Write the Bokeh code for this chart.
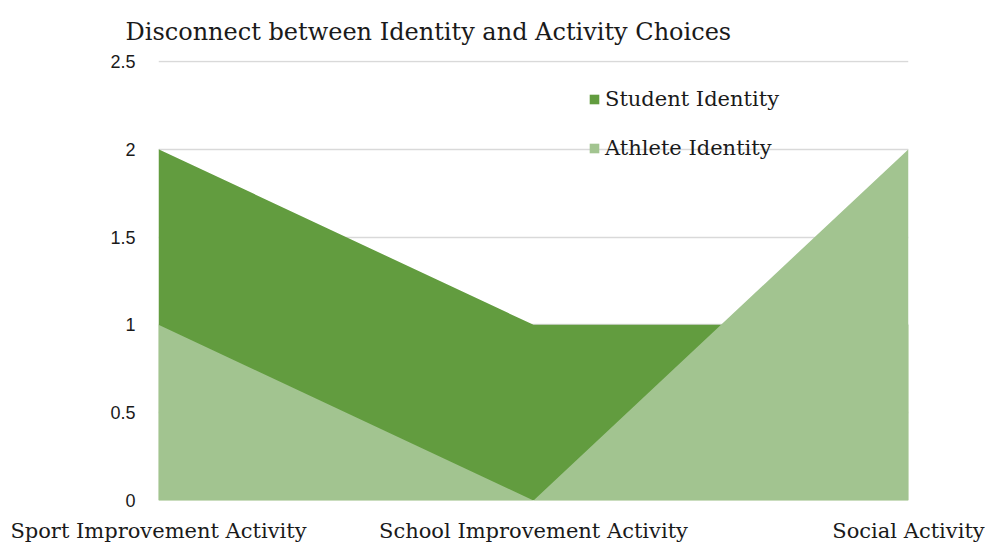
from bokeh.plotting import figure
from bokeh.models import Legend, LegendItem, FixedTicker
from bokeh.embed import file_html
from bokeh.resources import INLINE

categories = ["Sport Improvement Activity", "School Improvement Activity", "Social Activity"]
student_identity = [2, 1, 1]
athlete_identity = [1, 0, 2]
y_ticks = [0, 0.5, 1, 1.5, 2, 2.5]

xs = list(range(len(categories)))

p = figure(width=985, height=549, output_backend="svg", toolbar_location=None,
           x_range=(0, len(categories) - 1), y_range=(0, 2.505),
           min_border_left=158, min_border_right=77, min_border_top=60, min_border_bottom=49)

p.title.text = "Disconnect between Identity and Activity Choices"
p.title.text_font = "DejaVu Serif"
p.title.text_font_size = "24px"
p.title.text_font_style = "normal"
p.title.text_color = "#1a1a1a"
p.title.offset = -33
p.title.standoff = 29

r1 = p.varea(x=xs, y1=[0] * len(xs), y2=student_identity, fill_color="#629C3F")
r2 = p.varea(x=xs, y1=[0] * len(xs), y2=athlete_identity, fill_color="#A2C490")

p.xaxis.ticker = FixedTicker(ticks=xs)
p.xaxis.major_label_overrides = {i: c for i, c in enumerate(categories)}
p.xaxis.major_label_text_font = "DejaVu Serif"
p.xaxis.major_label_text_font_size = "21px"
p.xaxis.major_label_text_color = "#1a1a1a"
p.xaxis.major_label_standoff = 12
p.xaxis.axis_line_color = None
p.xaxis.major_tick_line_color = None
p.xaxis.minor_tick_line_color = None

p.yaxis.ticker = FixedTicker(ticks=y_ticks)
p.yaxis.major_label_overrides = {0: "0", 0.5: "0.5", 1: "1", 1.5: "1.5", 2: "2", 2.5: "2.5"}
p.yaxis.major_label_text_font = "Liberation Sans"
p.yaxis.major_label_text_font_size = "18px"
p.yaxis.major_label_text_color = "#1a1a1a"
p.yaxis.major_label_standoff = 17
p.yaxis.axis_line_color = None
p.yaxis.major_tick_line_color = None
p.yaxis.minor_tick_line_color = None

p.xgrid.grid_line_color = None
p.ygrid.ticker = FixedTicker(ticks=y_ticks)
p.ygrid.grid_line_color = "#D9D9D9"
p.ygrid.grid_line_width = 1.5
p.ygrid.level = "underlay"
p.outline_line_color = None

legend = Legend(items=[LegendItem(label="Student Identity", renderers=[r1]),
                       LegendItem(label="Athlete Identity", renderers=[r2])],
                location=(430, 339), orientation="vertical")
legend.label_text_font = "DejaVu Serif"
legend.label_text_font_size = "21px"
legend.label_text_color = "#1a1a1a"
legend.glyph_width = 12
legend.glyph_height = 12
legend.label_height = 26
legend.spacing = 23
legend.padding = 0
legend.margin = 0
legend.label_standoff = 5
legend.background_fill_alpha = 0
legend.border_line_color = None
p.add_layout(legend, "center")

open("out.html", "w").write(file_html(p, INLINE))
